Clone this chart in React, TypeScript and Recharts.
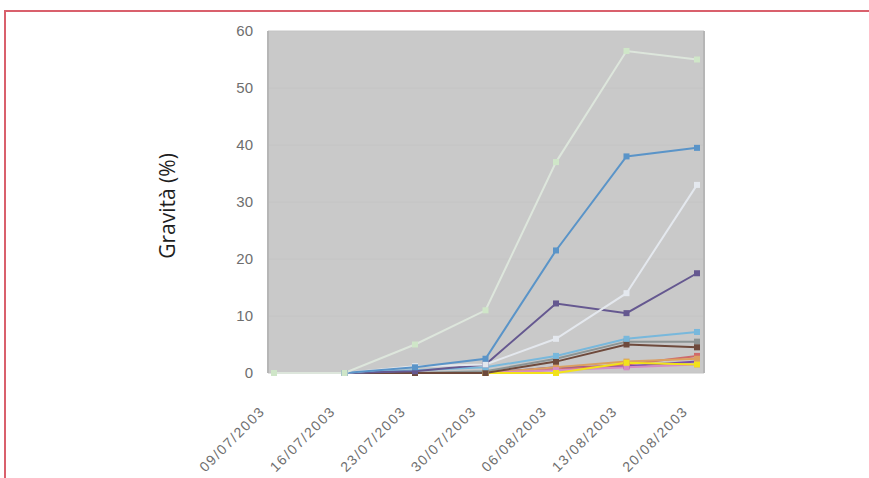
import React from 'react';
import { LineChart, Line, XAxis, YAxis, CartesianGrid } from 'recharts';

const dates = ['09/07/2003', '16/07/2003', '23/07/2003', '30/07/2003', '06/08/2003', '13/08/2003', '20/08/2003'];
const yTicks = [0, 10, 20, 30, 40, 50, 60];

// one array per series, null where the series has no point yet
const serieVerde = [0, 0, 5, 11, 37, 56.5, 55];
const serieBlu = [null, 0, 1, 2.5, 21.5, 38, 39.5];
const serieBianca = [null, 0, 1.2, 1.5, 6, 14, 33];
const serieViola = [null, 0, 0.3, 1.5, 12.2, 10.5, 17.5];
const serieAzzurra = [null, 0, 0.5, 1, 3, 6, 7.2];
const serieMarrone = [null, 0, 0, 0, 2, 5, 4.5];
const serieGrigia = [null, null, 0, 0.3, 2.5, 5.5, 5.5];
const serieGialla = [null, null, null, 0, 0, 1.8, 1.5];
const serieRosa = [null, null, null, 0, 0.5, 1, 1.5];
const serieArancio = [null, null, null, 0, 1, 2, 2.5];
const serieRossa = [null, null, null, 0, 0.6, 1.5, 3];
const serieIndaco = [null, null, null, 0, 1, 1.2, 2];

const series = [
  { key: 'indaco', values: serieIndaco, color: '#7a4fa8' },
  { key: 'rossa', values: serieRossa, color: '#cf6a6a' },
  { key: 'arancio', values: serieArancio, color: '#dca060' },
  { key: 'rosa', values: serieRosa, color: '#d58cc4' },
  { key: 'gialla', values: serieGialla, color: '#f2e21a' },
  { key: 'grigia', values: serieGrigia, color: '#8c9494' },
  { key: 'marrone', values: serieMarrone, color: '#6e4a3c' },
  { key: 'azzurra', values: serieAzzurra, color: '#78b8dc' },
  { key: 'viola', values: serieViola, color: '#655890' },
  { key: 'bianca', values: serieBianca, color: '#e4e8ee' },
  { key: 'blu', values: serieBlu, color: '#5a94c8' },
  { key: 'verde', values: serieVerde, color: '#dde6dc', dotColor: '#cfe6c8' },
];

const data = dates.map((d, i) => {
  const row: Record<string, string | number | null> = { date: d };
  series.forEach((s) => {
    row[s.key] = s.values[i];
  });
  return row;
});

const SquareDot = (color: string) => (props: any) => {
  const { cx, cy, index, value } = props;
  if (value == null || cx == null || cy == null) return <g key={index} />;
  return <rect key={index} x={cx - 3} y={cy - 3} width={6} height={6} fill={color} />;
};

const DateTick = (props: any) => {
  const { x, y, payload } = props;
  return (
    <g transform={`translate(${x - 8},${y + 31})`}>
      <text
        x={0}
        y={0}
        transform="rotate(-45)"
        textAnchor="end"
        fill="#6e6e6e"
        fontSize={14}
        letterSpacing={1.6}
        fontFamily="Liberation Sans, Arial, sans-serif"
      >
        {payload.value}
      </text>
    </g>
  );
};

const AxisTitle = (props: any) => {
  const { viewBox } = props;
  const x = viewBox.x + 167;
  const y = viewBox.y + viewBox.height / 2 + 4;
  return (
    <text
      x={x}
      y={y}
      transform={`rotate(-90, ${x}, ${y})`}
      textAnchor="middle"
      dominantBaseline="central"
      fill="#1e1e1e"
      fontSize={21}
      fontFamily="Open Sans, Noto Sans, sans-serif"
    >
      Gravità (%)
    </text>
  );
};

export default function App() {
  return (
    <div style={{ position: 'fixed', left: 0, top: 0, width: 869, height: 478, background: '#fff', overflow: 'hidden' }}>
      <div
        style={{
          position: 'absolute',
          left: 4,
          top: 10,
          width: 900,
          height: 500,
          border: '2px solid #d9606c',
          boxSizing: 'border-box',
        }}
      />
      <div style={{ position: 'absolute', left: 0, top: 0 }}>
        <LineChart width={869} height={478} data={data} margin={{ top: 31, right: 165, bottom: 0, left: 0 }}>
          <CartesianGrid fill="#c9c9c9" vertical={false} stroke="#c4c4c4" />
          <CartesianGrid
            horizontal={false}
            stroke="#b6b6b6"
            strokeWidth={2}
            verticalCoordinatesGenerator={({ offset }: any) => [offset.left, offset.left + offset.width]}
          />
          <XAxis
            dataKey="date"
            height={105}
            padding={{ left: 6, right: 7 }}
            axisLine={false}
            tickLine={false}
            interval={0}
            tick={<DateTick />}
          />
          <YAxis
            width={268}
            domain={[0, 60]}
            ticks={yTicks}
            axisLine={{ stroke: '#b6b6b6', strokeWidth: 2 }}
            tickLine={false}
            tickMargin={9}
            tick={{ fill: '#6e6e6e', fontSize: 15, fontFamily: 'Liberation Sans, Arial, sans-serif' }}
            label={<AxisTitle />}
          />
          {series.map((s) => (
            <Line
              key={s.key}
              type="linear"
              dataKey={s.key}
              stroke={s.color}
              strokeWidth={2}
              dot={SquareDot(s.dotColor || s.color)}
              activeDot={false}
              isAnimationActive={false}
              connectNulls={false}
            />
          ))}
        </LineChart>
      </div>
    </div>
  );
}
